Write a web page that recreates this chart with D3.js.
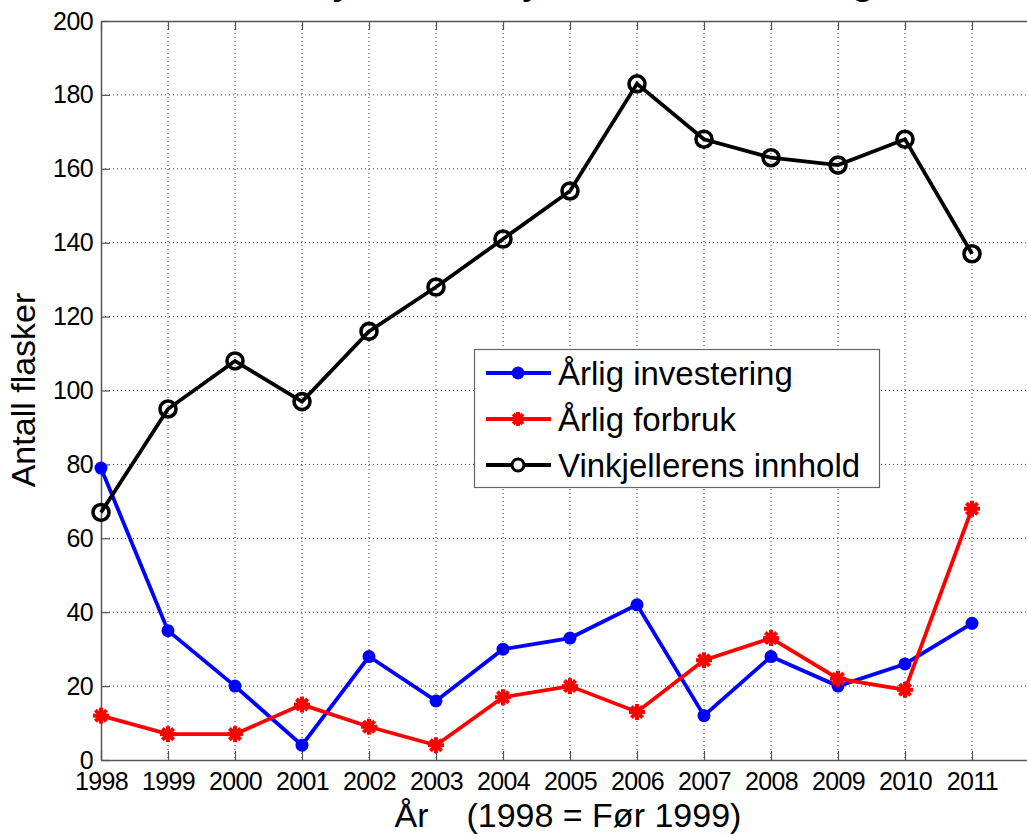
<!DOCTYPE html>
<html>
<head>
<meta charset="utf-8">
<script src="https://cdn.jsdelivr.net/npm/d3@7"></script>
<style>
  body { margin: 0; background: #fff; }
  svg text { font-family: "Liberation Sans", Arial, sans-serif; }
</style>
</head>
<body>
<div class="viz"></div>
<script>
var years = [1998, 1999, 2000, 2001, 2002, 2003, 2004, 2005, 2006, 2007, 2008, 2009, 2010, 2011];
var investering = [79, 35, 20, 4, 28, 16, 30, 33, 42, 12, 28, 20, 26, 37];
var forbruk = [12, 7, 7, 15, 9, 4, 17, 20, 13, 27, 33, 22, 19, 68];
var innhold = [67, 95, 108, 97, 116, 128, 141, 154, 183, 168, 163, 161, 168, 137];
var yTicks = [0, 20, 40, 60, 80, 100, 120, 140, 160, 180, 200];
var seriesNames = ["Årlig investering", "Årlig forbruk", "Vinkjellerens innhold"];

var width = 1027,
    height = 837,
    plotLeft = 101, plotRight = 1039,
    plotTop = 21, plotBottom = 760,
    axisColor = "#555";

var x = d3.scaleLinear().domain([1998, 2012]).range([plotLeft, plotRight]);
var y = d3.scaleLinear().domain([0, 200]).range([plotBottom, plotTop]);

var svg = d3.select(".viz").append("svg")
    .attr("width", width)
    .attr("height", height);

// title, almost all of it is above the picture
svg.append("text")
    .attr("x", 564)
    .attr("y", -6)
    .style("text-anchor", "middle")
    .style("font-size", "36px")
    .style("font-weight", "bold")
    .text("Analyse av vinkjellerens beholdning");

// dotted grid
svg.append("g").selectAll("line")
    .data(years.slice(1))
    .enter().append("line")
      .attr("x1", function(d){ return x(d); })
      .attr("x2", function(d){ return x(d); })
      .attr("y1", plotTop)
      .attr("y2", plotBottom)
      .style("stroke", "#333")
      .style("stroke-width", 1)
      .style("stroke-dasharray", "1,3");

svg.append("g").selectAll("line")
    .data(yTicks.slice(1, -1))
    .enter().append("line")
      .attr("x1", plotLeft)
      .attr("x2", plotRight)
      .attr("y1", function(d){ return y(d); })
      .attr("y2", function(d){ return y(d); })
      .style("stroke", "#333")
      .style("stroke-width", 1)
      .style("stroke-dasharray", "1,3");

// axes (ticks point inwards like matlab)
var xAxis = svg.append("g")
    .attr("transform", "translate(0," + plotBottom + ")")
    .call(d3.axisBottom(x).tickValues(years).tickFormat(d3.format("d")).tickSizeInner(-9).tickSizeOuter(0).tickPadding(12));
var xTop = svg.append("g")
    .attr("transform", "translate(0," + plotTop + ")")
    .call(d3.axisTop(x).tickValues(years).tickFormat("").tickSizeInner(-9).tickSizeOuter(0));
var yAxis = svg.append("g")
    .attr("transform", "translate(" + plotLeft + ",0)")
    .call(d3.axisLeft(y).tickValues(yTicks).tickSizeInner(-9).tickSizeOuter(0).tickPadding(8));

[xAxis, xTop, yAxis].forEach(function(g){
  g.selectAll("path").style("stroke", axisColor).style("stroke-width", 1.5);
  g.selectAll(".tick line").style("stroke", axisColor).style("stroke-width", 1.2);
  g.selectAll("text")
    .style("font-family", "'Liberation Sans', Arial, sans-serif")
    .style("font-size", "25px")
    .style("letter-spacing", "-0.6px")
    .style("fill", "#000");
});

// axis labels
svg.append("text")
    .attr("x", 568)
    .attr("y", 827)
    .style("text-anchor", "middle")
    .style("font-size", "34px")
    .style("white-space", "pre")
    .text("År    (1998 = Før 1999)");

svg.append("text")
    .attr("transform", "translate(35,390) rotate(-90)")
    .style("text-anchor", "middle")
    .style("font-size", "34px")
    .text("Antall flasker");

var line = d3.line()
    .x(function(d, i){ return x(years[i]); })
    .y(function(d){ return y(d); });

function asterisk(g, cx, cy, s, color) {
  var a = g.append("g").attr("transform", "translate(" + cx + "," + cy + ")");
  [[-s, 0, s, 0], [0, -s, 0, s], [-s*0.7, -s*0.7, s*0.7, s*0.7], [-s*0.7, s*0.7, s*0.7, -s*0.7]].forEach(function(p){
    a.append("line")
      .attr("x1", p[0]).attr("y1", p[1]).attr("x2", p[2]).attr("y2", p[3])
      .style("stroke", color).style("stroke-width", 4);
  });
}

// blue
svg.append("path")
    .datum(investering)
    .attr("d", line)
    .style("fill", "none")
    .style("stroke", "#0000ff")
    .style("stroke-width", 3.8);
svg.append("g").selectAll("circle")
    .data(investering)
    .enter().append("circle")
      .attr("cx", function(d, i){ return x(years[i]); })
      .attr("cy", function(d){ return y(d); })
      .attr("r", 6.5)
      .style("fill", "#0000ff");

// red
svg.append("path")
    .datum(forbruk)
    .attr("d", line)
    .style("fill", "none")
    .style("stroke", "#ff0000")
    .style("stroke-width", 3.8);
var redMarks = svg.append("g");
forbruk.forEach(function(d, i){ asterisk(redMarks, x(years[i]), y(d), 8, "#ff0000"); });

// black
svg.append("path")
    .datum(innhold)
    .attr("d", line)
    .style("fill", "none")
    .style("stroke", "#000")
    .style("stroke-width", 3.8);
svg.append("g").selectAll("circle")
    .data(innhold)
    .enter().append("circle")
      .attr("cx", function(d, i){ return x(years[i]); })
      .attr("cy", function(d){ return y(d); })
      .attr("r", 8)
      .style("fill", "none")
      .style("stroke", "#000")
      .style("stroke-width", 3.6);

// legend
var legend = svg.append("g");
legend.append("rect")
    .attr("x", 474.5)
    .attr("y", 349.5)
    .attr("width", 405)
    .attr("height", 138)
    .style("fill", "#fff")
    .style("stroke", "#666")
    .style("stroke-width", 1.2);

var colors = ["#0000ff", "#ff0000", "#000"];
seriesNames.forEach(function(name, i){
  var cy = 373 + i * 46;
  legend.append("line")
    .attr("x1", 486).attr("x2", 551)
    .attr("y1", cy).attr("y2", cy)
    .style("stroke", colors[i])
    .style("stroke-width", 3.8);
  if (i === 0) {
    legend.append("circle").attr("cx", 518).attr("cy", cy).attr("r", 6.5).style("fill", colors[i]);
  } else if (i === 1) {
    asterisk(legend, 518, cy, 7, colors[i]);
  } else {
    legend.append("circle").attr("cx", 518).attr("cy", cy).attr("r", 6)
      .style("fill", "#fff").style("stroke", "#000").style("stroke-width", 3);
  }
  legend.append("text")
    .attr("x", 558)
    .attr("y", cy + 12)
    .style("font-size", "33px")
    .text(name);
});
</script>
</body>
</html>
